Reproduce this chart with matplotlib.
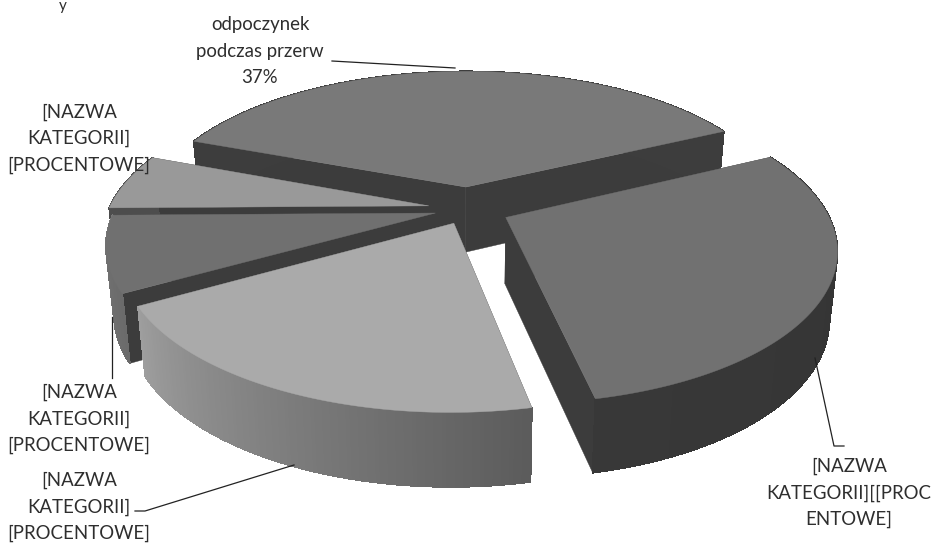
import numpy as np
import matplotlib
matplotlib.use("Agg")
import matplotlib.pyplot as plt

# slices going round from the right edge of the 37% slice
values = [37, 6, 8, 20, 29]
explode = [0.155, 0.125, 0.105, 0.105, 0.13]
top_grey = [0.475, 0.60, 0.44, 0.665, 0.445]
wall_grey = [(0.24, 0.24), (0.30, 0.30), (0.47, 0.42), (0.62, 0.36), (0.22, 0.20)]
face_grey = 0.235
FIRST_ANGLE = 26.0

# draw order, back to front
order = [0, 1, 2, 4, 3]

main_label = "odpoczynek\npodczas przerw\n37%"
other_label = "[NAZWA\nKATEGORII]\n[PROCENTOWE]"
broken_label = "[NAZWA\nKATEGORII][[PROC\nENTOWE]"

# projection of the pie plane to pixels
CX, CY = 468, 209
A, B = 320, 146
P = 0.195
H = 66
TXT = "#2e2e2e"
LINE = "#222222"

plt.rcParams["font.family"] = ["Lato", "DejaVu Sans"]


def project(x, y, z=1.0):
    w = 1 + P * y
    sx = CX + A * x / w * (1 - 0.022 * (1 - z))
    sy = CY - B * y / w + H * (1 - z) / np.sqrt(w)
    return sx, sy


fig = plt.figure(figsize=(9.31, 5.43), dpi=100)
ax = fig.add_axes([0, 0, 1, 1])
ax.set_xlim(0, 931)
ax.set_ylim(543, 0)
ax.axis("off")

spans = np.array(values) * 3.6
starts = FIRST_ANGLE + np.r_[0, np.cumsum(spans)[:-1]]

for i in order:
    a, b = starts[i], starts[i] + spans[i]
    mid = np.radians((a + b) / 2)
    ox, oy = explode[i] * np.cos(mid), explode[i] * np.sin(mid)
    t = np.radians(np.linspace(a, b, 120))
    rx, ry = ox + np.cos(t), oy + np.sin(t)
    bz = np.array([1, 1, 0, 0])

    # cut faces
    for k in (0, -1):
        px, py = project(np.array([ox, rx[k], rx[k], ox]), np.array([oy, ry[k], ry[k], oy]), bz)
        ax.fill(px, py, color=str(face_grey), lw=0.3)

    # outer wall: smooth outline first, then shaded strips without antialiasing
    g0, g1 = wall_grey[i]
    tx, ty = project(rx, ry, 1.0)
    lx, ly = project(rx, ry, 0.0)
    ax.fill(np.r_[tx, lx[::-1]], np.r_[ty, ly[::-1]], color=str((g0 + g1) / 2), lw=0.3)
    for k in range(len(t) - 1):
        g = g0 + (g1 - g0) * k / (len(t) - 2)
        ax.fill([tx[k], tx[k + 1], lx[k + 1], lx[k]], [ty[k], ty[k + 1], ly[k + 1], ly[k]],
                facecolor=str(g), edgecolor=str(g), lw=0.6, antialiased=False)

    # top
    px, py = project(np.r_[ox, rx], np.r_[oy, ry])
    ax.fill(px, py, color=str(top_grey[i]), lw=0.3)

# labels
style = dict(ha="center", va="center", fontsize=13.4, color=TXT, linespacing=1.66, zorder=3)
ax.text(260, 51, main_label, **style)
ax.text(79, 138.5, other_label, **style)
ax.text(79, 419, other_label, **style)
ax.text(79, 507, other_label, **style)
ax.text(849, 493, broken_label, **style)
ax.text(63, 6, "y", ha="center", va="center", fontsize=11, color=TXT, zorder=3)

# leader lines
ax.plot([332, 455], [61, 68], color=LINE, lw=0.9, zorder=2)
ax.plot([112, 112], [317, 378], color=LINE, lw=0.9, zorder=2)
ax.plot([135, 145, 294], [511, 511, 465], color=LINE, lw=0.9, zorder=2)
ax.plot([815, 834, 844], [358, 446, 446], color=LINE, lw=0.9, zorder=2)

plt.savefig("out.png", dpi=100)
